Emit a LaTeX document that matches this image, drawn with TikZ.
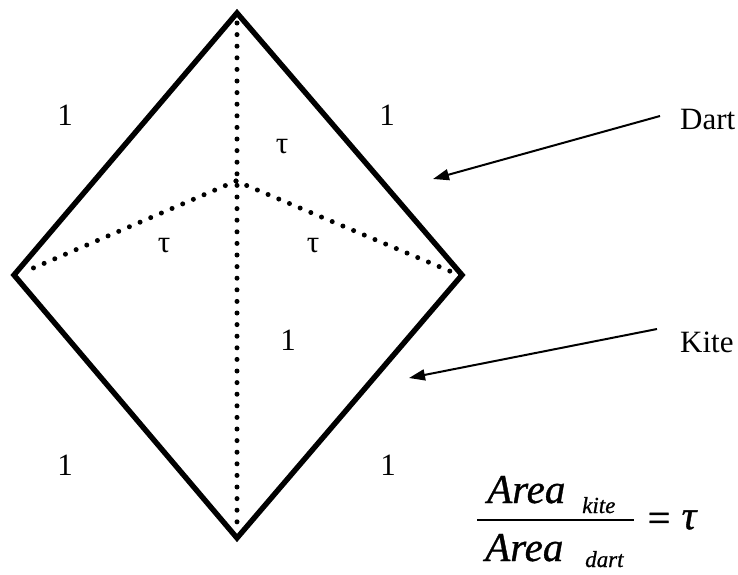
\documentclass[tikz,border=0pt]{standalone}
\usepackage{fontspec}
\setmainfont{Liberation Serif}
\newfontfamily\formfont{Liberation Serif}[FakeBold=0.8]
\usetikzlibrary{arrows.meta}
\begin{document}
\begin{tikzpicture}[x=1pt,y=-1pt,
  outline/.style={line width=5.4pt,line join=miter},
  dotline/.style={line width=5pt,line cap=round,dash pattern=on 0pt off 11.6pt},
  pointer/.style={line width=2pt,-{Triangle[length=16pt,width=11pt]}},
  lab/.style={inner sep=0pt,font=\fontsize{31}{31}\selectfont},
  flab/.style={inner sep=0pt,font=\fontsize{41}{41}\formfont\itshape},
  slab/.style={inner sep=0pt,font=\fontsize{23}{23}\formfont\itshape}]
\useasboundingbox (0,0) rectangle (738,574);
% vertices
\coordinate (T) at (237,13);
\coordinate (L) at (14,275);
\coordinate (R) at (462,275);
\coordinate (B) at (237,538);
\coordinate (C) at (236,181);
\coordinate (Ti) at (237,23);
\coordinate (Bi) at (237,528);
\coordinate (Li) at (24,272);
\coordinate (Ri) at (452,272);
% outline
\draw[outline] (T) -- (R) -- (B) -- (L) -- cycle;
% dotted internal lines
\draw[dotline] (Ti) -- (Bi);
\draw[dotline] (C) -- (Li);
\draw[dotline] (C) -- (Ri);
% labels
\node[lab] (l1) at (65,115) {1};
\node[lab] (l2) at (387,115) {1};
\node[lab] (l3) at (288,340) {1};
\node[lab] (l4) at (65,465) {1};
\node[lab] (l5) at (388,465) {1};
\node[lab] (t1) at (282,147) {τ};
\node[lab] (t2) at (164,246) {τ};
\node[lab] (t3) at (313,246) {τ};
% Dart / Kite
\node[lab,anchor=base west] (dart) at (680,129) {Dart};
\node[lab,anchor=base west] (kite) at (680,352) {Kite};
\coordinate (ds) at (660,116);
\coordinate (dt) at (433,179);
\coordinate (ks) at (657,329);
\coordinate (kt) at (409,378);
\draw[pointer] (ds) -- (dt);
\draw[pointer] (ks) -- (kt);
% formula
\node[flab,anchor=base west] (na) at (487,503) {Area};
\node[slab,anchor=base west] (nk) at (582,513) {kite};
\node[flab,anchor=base west] (da) at (485,561) {Area};
\node[slab,anchor=base west] (dd) at (585,567) {dart};
\coordinate (fb1) at (477,520);
\coordinate (fb2) at (634,520);
\draw[line width=1.8pt] (fb1) -- (fb2);
\node[inner sep=0pt,font=\fontsize{40}{40}\formfont] (eq) at (659,522) {=};
\node[flab] (tau) at (689,520) {τ};
\end{tikzpicture}
\end{document}
